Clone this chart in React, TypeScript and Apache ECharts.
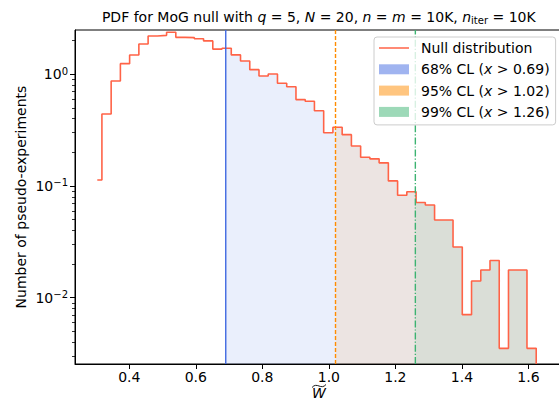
import React, { useEffect, useRef } from 'react';
import * as echarts from 'echarts';

// ---- data ----
const binCenters = [
  0.3038, 0.3316, 0.3594, 0.3871, 0.4149, 0.4427, 0.4705, 0.4983, 0.526, 0.5538,
  0.5816, 0.6094, 0.6372, 0.6649, 0.6927, 0.7205, 0.7483, 0.7761, 0.8038, 0.8316,
  0.8594, 0.8872, 0.915, 0.9427, 0.9705, 0.9983, 1.0261, 1.0539, 1.0816, 1.1094,
  1.1372, 1.165, 1.1928, 1.2205, 1.2483, 1.2761, 1.3039, 1.3317, 1.3594, 1.3872,
  1.415, 1.4428, 1.4706, 1.4983, 1.5261, 1.5539, 1.5817, 1.6095,
];
const density = [
  0.113, 0.441, 0.871, 1.244, 1.489, 1.867, 2.2, 2.23, 2.38, 2.14,
  2.13, 2.08, 1.99, 1.68, 1.71, 1.49, 1.316, 1.1, 0.965, 1.006,
  0.83, 0.774, 0.593, 0.573, 0.472, 0.3, 0.336, 0.288, 0.228, 0.181,
  0.175, 0.161, 0.111, 0.0826, 0.0889, 0.0712, 0.0676, 0.0496, 0.0496, 0.0284,
  0.00705, 0.0141, 0.0177, 0.0215, 0.00352, 0.0177, 0.0177, 0.00352,
];
const clLevels = ['68%', '95%', '99%'];
const clThresholds = [0.69, 1.02, 1.26];
const xTickValues = [0.4, 0.6, 0.8, 1.0, 1.2, 1.4, 1.6];
const yTickValues = [0.01, 0.1, 1];
const yMinorTickValues = [
  0.003, 0.004, 0.005, 0.006, 0.007, 0.008, 0.009,
  0.02, 0.03, 0.04, 0.05, 0.06, 0.07, 0.08, 0.09,
  0.2, 0.3, 0.4, 0.5, 0.6, 0.7, 0.8, 0.9, 2,
];

const X_MIN = 0.2368;
const X_MAX = 1.7039;
const Y_MIN = 0.00255;
const Y_MAX = 2.49;

const FONT = "'DejaVu Sans', 'Liberation Sans', sans-serif";
const CL_LINE = ['#4169e1', '#ff8c00', '#3cb371'];
const CL_PATCH = ['#a0b4f0', '#ffc57f', '#9dd9b8'];
const CL_FILL = ['rgba(65,105,225,0.11)', 'rgba(255,140,0,0.1)', 'rgba(60,179,113,0.1)'];
const CL_DASH: any[] = ['solid', [4, 2], [7, 2, 1.2, 2]];

export default function App() {
  const ref = useRef<HTMLDivElement>(null);

  useEffect(() => {
    document.body.style.margin = '0';
    if (!ref.current) return;
    const chart = echarts.init(ref.current, null, { renderer: 'svg' });

    const n = binCenters.length;
    const edges = binCenters.map((c, i) =>
      i === 0 ? c - (binCenters[1] - c) / 2 : (binCenters[i - 1] + c) / 2
    );
    const lastEdge = binCenters[n - 1] + (binCenters[n - 1] - binCenters[n - 2]) / 2;

    // main step curve (matplotlib where='mid' look)
    const mainPts: number[][] = [[binCenters[0], density[0]]];
    for (let i = 1; i < n; i++) mainPts.push([edges[i], density[i]]);
    mainPts.push([lastEdge, density[n - 1]]);
    mainPts.push([lastEdge, Y_MIN]);

    const fillPts = (t: number) => {
      let k = 0;
      for (let i = 0; i < n; i++) if (edges[i] <= t) k = i;
      const pts: number[][] = [[t, density[k]]];
      for (let i = k + 1; i < n; i++) pts.push([edges[i], density[i]]);
      pts.push([lastEdge, density[n - 1]]);
      return pts;
    };

    const clNames = clLevels.map((l, i) => `${l} CL (x > ${clThresholds[i].toFixed(2)})`);
    const legendRich: Record<string, string> = {};
    clLevels.forEach((l, i) => {
      legendRich[clNames[i]] = `${l} CL ({i|x} > ${clThresholds[i].toFixed(2)})`;
    });

    const fillSeries = clThresholds.map((t, i) => ({
      type: 'line',
      name: clNames[i],
      data: fillPts(t),
      step: 'end',
      symbol: 'none',
      silent: true,
      z: 1,
      lineStyle: { width: 0, color: CL_PATCH[i] },
      itemStyle: { color: CL_PATCH[i] },
      areaStyle: { color: CL_FILL[i], opacity: 1, origin: 'start' },
      emphasis: { disabled: true },
    }));

    const thresholdSeries = clThresholds.map((t, i) => ({
      type: 'line',
      name: `threshold-${i}`,
      data: [
        [t, Y_MIN],
        [t, Y_MAX],
      ],
      symbol: 'none',
      silent: true,
      z: 4,
      color: CL_LINE[i],
      lineStyle: { color: CL_LINE[i], type: CL_DASH[i], width: 1.4, opacity: 1 },
      emphasis: { disabled: true },
    }));

    const option: any = {
      animation: false,
      textStyle: { fontFamily: FONT },
      graphic: [
        {
          type: 'text',
          x: 318.8,
          y: 17,
          style: {
            text: 'PDF for MoG null with {i|q} = 5, {i|N} = 20, {i|n} = {i|m} = 10K, {i|n}{sub|iter} = 10K',
            fontSize: 14,
            fontFamily: FONT,
            fill: '#000',
            lineHeight: 16,
            align: 'center',
            verticalAlign: 'middle',
            rich: {
              i: { fontStyle: 'italic', fontSize: 14, fontFamily: FONT, fill: '#000', lineHeight: 16 },
              sub: { fontSize: 10, fontFamily: FONT, fill: '#000', lineHeight: 8, verticalAlign: 'bottom' },
            },
          },
        },
        {
          // wide tilde accent over the x-axis label W
          type: 'bezierCurve',
          silent: true,
          shape: { x1: 312, y1: 387.5, cpx1: 317, cpy1: 381.5, cpx2: 321, cpy2: 390.5, x2: 326, y2: 384.5 },
          style: { stroke: '#000', lineWidth: 0.9, fill: 'none' },
        },
      ],
      grid: {
        left: 75,
        right: -4,
        top: 30,
        bottom: 36,
        show: true,
        borderColor: '#000',
        borderWidth: 1,
        backgroundColor: 'transparent',
        containLabel: false,
        outerBoundsMode: 'none',
      },
      legend: {
        orient: 'vertical',
        left: 374,
        top: 37,
        padding: [3, 6, 5, 5],
        itemWidth: 30,
        itemHeight: 10,
        itemGap: 5.3,
        selectedMode: false,
        backgroundColor: 'rgba(255,255,255,0.8)',
        borderColor: '#cccccc',
        borderWidth: 1,
        borderRadius: 3,
        z: 10,
        textStyle: {
          fontSize: 14,
          fontFamily: FONT,
          color: '#000',
          lineHeight: 16,
          padding: [0, 0, 0, 7],
          rich: {
            i: { fontStyle: 'italic', fontSize: 14, fontFamily: FONT, color: '#000', lineHeight: 16 },
          },
        },
        formatter: (name: string) => legendRich[name] ?? name,
        data: [
          { name: 'Null distribution', icon: 'path://M0,0H30V1.5H0Z', itemStyle: { color: '#ff6347' } },
          ...clNames.map((nm, i) => ({ name: nm, icon: 'rect', itemStyle: { color: CL_PATCH[i] } })),
        ],
      },
      xAxis: {
        type: 'value',
        min: X_MIN,
        max: X_MAX,
        splitNumber: 7,
        minInterval: 0.2,
        maxInterval: 0.2,
        splitLine: { show: false },
        axisLine: { onZero: false, lineStyle: { color: '#000', width: 1 } },
        axisTick: { show: true, length: 5, inside: false, customValues: xTickValues, lineStyle: { color: '#000' } },
        axisLabel: {
          customValues: xTickValues,
          margin: 6,
          fontSize: 14,
          fontFamily: FONT,
          color: '#000',
          formatter: (v: number) => v.toFixed(1),
        },
        name: 'W',
        nameLocation: 'middle',
        nameGap: 23,
        nameMoveOverlap: false,
        nameTextStyle: {
          verticalAlign: 'top',
          fontSize: 14,
          lineHeight: 12,
          fontStyle: 'italic',
          fontFamily: FONT,
          color: '#000',
        },
      },
      yAxis: [
        {
          type: 'log',
          logBase: 10,
          min: Y_MIN,
          max: Y_MAX,
          position: 'left',
          splitLine: { show: false },
          minorTick: { show: false },
          axisLine: { show: true, lineStyle: { color: '#000', width: 1 } },
          axisTick: { show: true, length: 5, inside: false, customValues: yTickValues, lineStyle: { color: '#000' } },
          axisLabel: {
            customValues: yTickValues,
            margin: 7,
            formatter: (v: number) => {
              const e = Math.round(Math.log10(v));
              return `{b|10}{s|${e < 0 ? '\u2212' : ''}${Math.abs(e)}}`;
            },
            rich: {
              b: { fontSize: 14, lineHeight: 16, fontFamily: FONT, color: '#000' },
              s: { fontSize: 10, lineHeight: 7, verticalAlign: 'top', fontFamily: FONT, color: '#000' },
            },
          },
          name: 'Number of pseudo-experiments',
          nameLocation: 'middle',
          nameGap: 47,
          nameMoveOverlap: false,
          nameTextStyle: { fontSize: 14, fontFamily: FONT, color: '#000' },
        },
        {
          type: 'log',
          logBase: 10,
          min: Y_MIN,
          max: Y_MAX,
          position: 'left',
          offset: 0,
          splitLine: { show: false },
          axisLine: { show: false },
          axisLabel: { show: false },
          axisTick: {
            show: true,
            length: 3,
            inside: false,
            customValues: yMinorTickValues,
            lineStyle: { color: '#000', width: 0.8 },
          },
        },
      ],
      series: [
        ...fillSeries,
        {
          type: 'line',
          name: 'Null distribution',
          data: mainPts,
          step: 'end',
          symbol: 'none',
          z: 3,
          lineStyle: { color: '#ff6347', width: 1.6 },
          itemStyle: { color: '#ff6347' },
          emphasis: { disabled: true },
        },
        ...thresholdSeries,
      ],
    };

    chart.setOption(option);
    return () => chart.dispose();
  }, []);

  return (
    <div
      ref={ref}
      style={{ width: 559, height: 400, position: 'fixed', left: 0, top: 0, background: '#fff' }}
    />
  );
}
